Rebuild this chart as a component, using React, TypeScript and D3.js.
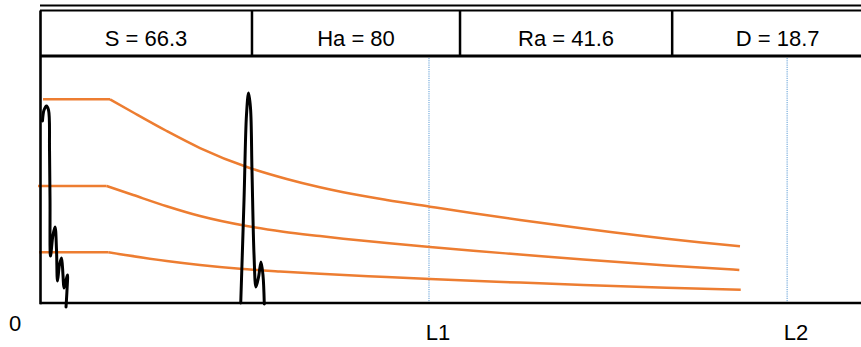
import React from "react";
import * as d3 from "d3";

// ---- data (x in arbitrary units 0..100, y in % of full scale) ----
const traceX = [0.30, 0.49, 0.79, 1.04, 1.16, 1.22, 1.28, 1.58, 1.83, 2.01, 2.13, 2.37, 2.62, 2.80, 2.92, 3.17, 3.35, 3.29, 3.17];
const traceY = [73.7, 78.1, 79.8, 78.1, 61.9, 41.7, 19.0, 27.5, 30.8, 21.5, 8.9, 15.4, 18.2, 11.3, 6.1, 9.3, 11.3, 5.3, -1.6];
const trace2X = [24.45, 24.85, 25.15, 25.40, 25.64, 25.82, 26.07, 26.31, 26.62, 26.92, 27.16, 27.32];
const trace2Y = [0, 41.7, 76.1, 85.0, 78.9, 53.8, 19.4, 6.5, 10.5, 16.6, 11.3, -0.4];

const curveX1 = [0.37, 8.53, 11.36, 15.43, 19.49, 25.37, 30.05, 34.10, 36.94, 42.23, 47.50, 52.78, 58.47, 66.18, 71.26, 76.33, 81.21, 85.26];
const curveY1 = [82.47, 82.47, 77.13, 69.64, 62.75, 54.86, 50.20, 46.84, 44.82, 41.70, 38.99, 36.32, 33.60, 30.16, 28.06, 25.99, 24.29, 22.96];
const curveX2 = [-0.24, 8.12, 11.36, 15.43, 19.49, 25.18, 29.63, 34.10, 36.94, 42.23, 47.50, 52.78, 58.47, 66.18, 76.33, 85.18];
const curveY2 = [47.37, 47.37, 43.72, 39.19, 35.22, 31.17, 28.87, 27.09, 26.03, 24.29, 22.63, 21.13, 19.64, 17.65, 15.22, 13.40];
const curveX3 = [-0.12, 8.32, 15.43, 19.49, 24.36, 29.23, 34.10, 42.23, 47.50, 58.47, 66.18, 76.33, 85.35];
const curveY3 = [20.53, 20.53, 17.00, 15.38, 13.85, 12.75, 11.82, 10.53, 9.72, 8.26, 7.29, 6.15, 5.38];

const markerNames = ["L1", "L2"];
const markerX = [47.38, 91.0];

const headerLabels = ["S = 66.3", "Ha = 80", "Ra = 41.6", "D = 18.7"];
const headerBounds = [0, 25.82, 51.16, 77.0, 102.7];

const originLabel = "0";

const W = 861;
const H = 347;
const left = 40;
const right = 861;
const plotTop = 56;
const plotBottom = 303;
const headerTop = 10.5;
const topRule = 5.5;

const FONT = "'Liberation Sans', Arial, sans-serif";
const ORANGE = "#ED7D31";
const BLUE = "#5B9BD5";

export default function App() {
  const x = d3.scaleLinear().domain([0, 100]).range([left, right]);
  const y = d3.scaleLinear().domain([0, 100]).range([plotBottom, plotTop]);

  const traceLine = d3
    .line<[number, number]>()
    .x((d) => x(d[0]))
    .y((d) => y(d[1]))
    .curve(d3.curveCatmullRom.alpha(0.5));

  const flatLine = d3
    .line<[number, number]>()
    .x((d) => x(d[0]))
    .y((d) => y(d[1]));

  const decayLine = d3
    .line<[number, number]>()
    .x((d) => x(d[0]))
    .y((d) => y(d[1]))
    .curve(d3.curveMonotoneX);

  const zip = (xs: number[], ys: number[]) => xs.map((v, i) => [v, ys[i]] as [number, number]);

  const traces = [zip(traceX, traceY), zip(trace2X, trace2Y)];
  const curves = [zip(curveX1, curveY1), zip(curveX2, curveY2), zip(curveX3, curveY3)];

  return (
    <svg
      width={W}
      height={H}
      style={{ position: "absolute", left: 0, top: 0, background: "#fff" }}
    >
      {/* top rule */}
      <line x1={x(0)} x2={W} y1={topRule} y2={topRule} stroke="#000" strokeWidth={2.2} />
      {/* header box */}
      <line x1={x(0)} x2={W} y1={headerTop} y2={headerTop} stroke="#000" strokeWidth={2.2} />
      <line x1={x(0)} x2={W} y1={plotTop} y2={plotTop} stroke="#000" strokeWidth={2.8} />
      {headerBounds.slice(1, -1).map((b, i) => (
        <line key={"hb" + i} x1={x(b)} x2={x(b)} y1={headerTop} y2={plotTop} stroke="#000" strokeWidth={2.5} />
      ))}
      {headerLabels.map((t, i) => (
        <text
          key={"hl" + i}
          x={(x(headerBounds[i]) + x(headerBounds[i + 1])) / 2}
          y={46}
          textAnchor="middle"
          fontFamily={FONT}
          fontSize={22}
          fill="#000"
        >
          {t}
        </text>
      ))}

      {/* marker lines */}
      {markerX.map((m, i) => (
        <g key={"m" + i}>
          <line
            x1={x(m)}
            x2={x(m)}
            y1={plotTop + 2}
            y2={plotBottom}
            stroke={BLUE}
            strokeWidth={1}
            strokeDasharray="1.2,1"
          />
          <text x={x(m) + 9} y={340} textAnchor="middle" fontFamily={FONT} fontSize={22} fill="#000">
            {markerNames[i]}
          </text>
        </g>
      ))}

      {/* orange curves */}
      {curves.map((c, i) => (
        <g key={"c" + i}>
          <path d={flatLine(c.slice(0, 2)) || ""} fill="none" stroke={ORANGE} strokeWidth={2.5} />
          <path d={decayLine(c.slice(1)) || ""} fill="none" stroke={ORANGE} strokeWidth={2.5} />
        </g>
      ))}

      {/* black trace */}
      {traces.map((t, i) => (
        <path
          key={"t" + i}
          d={traceLine(t) || ""}
          fill="none"
          stroke="#000"
          strokeWidth={3}
          strokeLinejoin="round"
          strokeLinecap="round"
        />
      ))}

      {/* axes */}
      <line x1={x(0) + 0.5} x2={x(0) + 0.5} y1={headerTop} y2={plotBottom + 1.2} stroke="#000" strokeWidth={2.6} />
      <line x1={x(0)} x2={W} y1={plotBottom} y2={plotBottom} stroke="#000" strokeWidth={2.6} />

      <text x={15} y={331} textAnchor="middle" fontFamily={FONT} fontSize={22} fill="#000">
        {originLabel}
      </text>
    </svg>
  );
}
